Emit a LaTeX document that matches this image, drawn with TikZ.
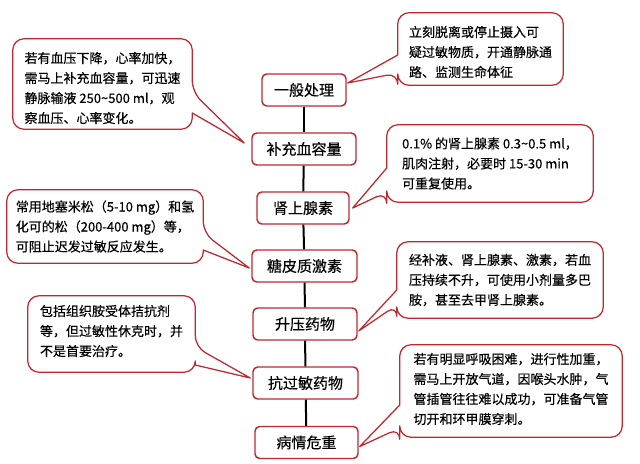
\documentclass[tikz,border=0pt]{standalone}
\usepackage{fontspec}
\newfontfamily\cjk{Noto Sans CJK SC}[FakeBold=0.35]
\usetikzlibrary{calc}
\definecolor{bred}{RGB}{192,40,48}
\tikzset{
  cbox/.style={draw=bred, line width=1.1pt, rounded corners=3.5pt, fill=white,
    minimum height=24pt, inner sep=0pt, font=\cjk\fontsize{11.25pt}{13pt}\selectfont},
  ctext/.style={inner sep=0pt, align=left, font=\cjk\fontsize{9.75pt}{15pt}\selectfont},
  cobox/.style={draw=bred, line width=0.95pt, fill=white, line join=round},
  link/.style={draw=black, line width=1.5pt}
}
\newcommand\calloutright[4]{%
  \draw[cobox] (#1.north) [rounded corners=8.5pt] -- (#1.north east) -- (#1.east |- 0,#2)
    [sharp corners] -- (#4) -- (#1.east |- 0,#3) [rounded corners=8.5pt] -- (#1.south east)
    -- (#1.south west) -- (#1.north west) -- cycle;}
\newcommand\calloutleft[4]{%
  \draw[cobox] (#1.north) [rounded corners=8.5pt] -- (#1.north east) -- (#1.south east)
    -- (#1.south west) -- (#1.west |- 0,#3) [sharp corners] -- (#4) -- (#1.west |- 0,#2)
    [rounded corners=8.5pt] -- (#1.north west) -- cycle;}
\begin{document}
\begin{tikzpicture}[x=0.75pt,y=-0.75pt]
\useasboundingbox (0,0) rectangle (640,464);
% central boxes
\node[cbox, minimum width=63pt] (b1) at (304,90) {一般处理};
\node[cbox, minimum width=78pt] (b2) at (304,149) {补充血容量};
\node[cbox, minimum width=69pt] (b3) at (303,208) {肾上腺素};
\node[cbox, minimum width=78.75pt] (b4) at (304.5,266) {糖皮质激素};
\node[cbox, minimum width=78pt] (b5) at (305,324) {升压药物};
\node[cbox, minimum width=78.75pt] (b6) at (305.5,383) {抗过敏药物};
\node[cbox, minimum width=77.25pt] (b7) at (306.5,442.5) {病情危重};
\draw[link] (b1) -- (b2);
\draw[link] (b2) -- (b3);
\draw[link] (b3) -- (b4);
\draw[link] (b4) -- (b5);
\draw[link] (b5) -- (b6);
\draw[link] (b6) -- (b7);
% tail tips
\coordinate (t1) at ($(b2.west)+(-7,-6)$);
\coordinate (t2) at ($(b1.east)+(1,-7)$);
\coordinate (t3) at ($(b3.east)+(3,0)$);
\coordinate (t4) at ($(b4.west)+(-2,2)$);
\coordinate (t5) at ($(b5.east)+(1,7)$);
\coordinate (t6) at ($(b6.west)+(-2,-5)$);
\coordinate (t7) at ($(b7.east)+(1,4)$);
% callout frames (placeholders for geometry)
\path node[minimum width=134.25pt, minimum height=67.5pt, inner sep=0pt] (c1) at (102.5,84) {};
\path node[minimum width=123.75pt, minimum height=54pt, inner sep=0pt] (c2) at (480.5,49) {};
\path node[minimum width=154.5pt, minimum height=57.75pt, inner sep=0pt] (c3) at (490,163.5) {};
\path node[minimum width=147pt, minimum height=54.75pt, inner sep=0pt] (c4) at (105,226.5) {};
\path node[minimum width=154.5pt, minimum height=57pt, inner sep=0pt] (c5) at (500,280) {};
\path node[minimum width=125.25pt, minimum height=57pt, inner sep=0pt] (c6) at (111.5,334) {};
\path node[minimum width=166.5pt, minimum height=69pt, inner sep=0pt] (c7) at (511,391) {};
\calloutright{c1}{92}{113}{t1}
\calloutleft{c2}{55}{73}{t2}
\calloutleft{c3}{168}{192}{t3}
\calloutright{c4}{233}{250}{t4}
\calloutleft{c5}{290}{305}{t5}
\calloutright{c6}{347}{365}{t6}
\calloutleft{c7}{405}{428}{t7}
% callout texts
\node[ctext] (x1) at ($(c1.center)+(0,4)$) {若有血压下降，心率加快，\\需马上补充血容量，可迅速\\静脉输液 250\textasciitilde500 ml，观\\察血压、心率变化。};
\node[ctext] (x2) at ($(c2.center)+(0,3)$) {立刻脱离或停止摄入可\\疑过敏物质，开通静脉通\\路、监测生命体征};
\node[ctext] (x3) at ($(c3.center)+(0,0)$) {0.1\%\ 的肾上腺素 0.3\textasciitilde0.5 ml，\\肌肉注射，必要时 15-30 min\\可重复使用。};
\node[ctext] (x4) at ($(c4.center)+(0,0)$) {常用地塞米松（5-10 mg）和氢\\化可的松（200-400 mg）等，\\可阻止迟发过敏反应发生。};
\node[ctext] (x5) at ($(c5.center)+(0,0)$) {经补液、肾上腺素、激素，若血\\压持续不升，可使用小剂量多巴\\胺，甚至去甲肾上腺素。};
\node[ctext] (x6) at ($(c6.center)+(0,-3)$) {包括组织胺受体拮抗剂\\等，但过敏性休克时，并\\不是首要治疗。};
\node[ctext] (x7) at ($(c7.center)+(0,-2)$) {若有明显呼吸困难，进行性加重，\\需马上开放气道，因喉头水肿，气\\管插管往往难以成功，可准备气管\\切开和环甲膜穿刺。};
\end{tikzpicture}
\end{document}
